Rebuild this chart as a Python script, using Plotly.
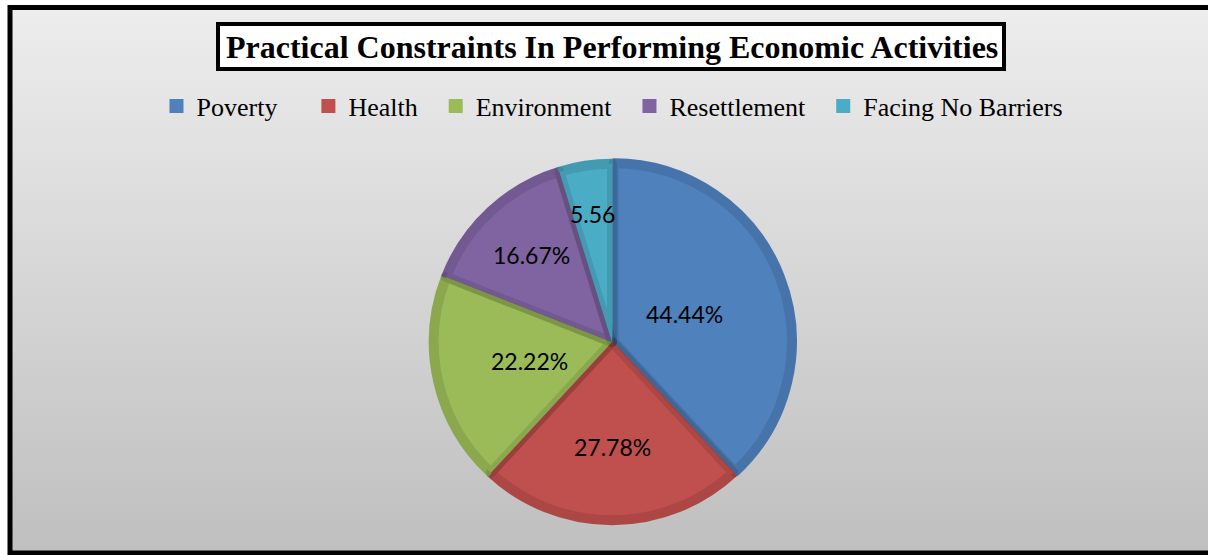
import base64
import math
import plotly.graph_objects as go

# Data
categories = ["Poverty", "Health", "Environment", "Resettlement", "Facing No Barriers"]
values = [44.44, 27.78, 22.22, 16.67, 5.56]
value_labels = ["44.44%", "27.78%", "22.22%", "16.67%", "5.56"]
colors = ["#4f81bd", "#c0504d", "#9bbb59", "#8064a2", "#4bacc6"]

W, H = 1208, 555

def px_x(x):
    return x / W

def px_y(y):
    return 1 - y / H

# pie geometry in pixels
cx, cy, R = 612, 342, 185
band = 10  # width of the darker bevel stroke
r_inner = R - band / 2
# how far out (fraction of radius) each slice label sits along its mid-angle
label_radius = [0.42, 0.57, 0.46, 0.64, 0.70]
# extra non-breaking spaces after each legend entry to widen the gaps
legend_pad = [4, 2, 2, 2, 0]
legend_names = [c + "\u00a0" * n for c, n in zip(categories, legend_pad)]

def domain(r):
    return dict(x=[px_x(cx - r), px_x(cx + r)], y=[px_y(cy + r), px_y(cy - r)])

fig = go.Figure()

# base layer (full radius) carries the legend
fig.add_trace(go.Pie(
    labels=legend_names, values=values, sort=False, direction="clockwise", rotation=0,
    marker=dict(colors=colors, line=dict(width=2, color=colors)),
    textinfo="none", customdata=categories,
    hovertemplate="%{customdata}: %{value}<extra></extra>", domain=domain(R - 1),
    pull=[0.01, 0, 0, 0, 0], showlegend=True,
))

# top layer with a translucent darker edge for the bevelled look
fig.add_trace(go.Pie(
    labels=legend_names, values=values, sort=False, direction="clockwise", rotation=0,
    marker=dict(colors=colors, line=dict(width=band, color="rgba(0,0,0,0.10)")),
    textinfo="none", customdata=categories,
    hovertemplate="%{customdata}: %{value}<extra></extra>", domain=domain(r_inner),
    pull=[0.01, 0, 0, 0, 0], showlegend=False,
))

# slice labels placed along each slice's mid-angle
total = sum(values)
annotations = []
cum = 0.0
for v, txt, rf in zip(values, value_labels, label_radius):
    mid = (cum + v / 2) / total * 2 * math.pi
    cum += v
    annotations.append(dict(
        text=txt, xref="paper", yref="paper",
        x=px_x(cx + rf * R * math.sin(mid)), y=px_y(cy - rf * R * math.cos(mid)),
        xanchor="center", yanchor="middle", showarrow=False,
        font=dict(family="Lato", size=23, color="#000000"),
    ))

annotations.append(dict(
    text="<b>Practical Constraints In Performing Economic Activities</b>",
    xref="paper", yref="paper", x=px_x(612), y=px_y(47),
    xanchor="center", yanchor="middle", showarrow=False,
    font=dict(family="Liberation Serif", size=32, color="#000000"),
))

# grey vertical gradient behind the chart area
svg = (
    '<svg xmlns="http://www.w3.org/2000/svg" width="100" height="100" preserveAspectRatio="none">'
    '<defs><linearGradient id="g" x1="0" y1="0" x2="0" y2="1">'
    '<stop offset="0" stop-color="#ededed"/><stop offset="1" stop-color="#bfbfbf"/>'
    '</linearGradient></defs><rect width="100" height="100" fill="url(#g)"/></svg>'
)
bg_uri = "data:image/svg+xml;base64," + base64.b64encode(svg.encode()).decode()

fig.update_layout(
    width=W, height=H,
    margin=dict(l=0, r=0, t=0, b=0, autoexpand=False),
    paper_bgcolor="#ffffff",
    images=[dict(
        source=bg_uri, xref="paper", yref="paper",
        x=px_x(10), y=px_y(7), sizex=px_x(W + 10) - px_x(10), sizey=px_y(7) - px_y(553),
        xanchor="left", yanchor="top", sizing="stretch", layer="below",
    )],
    shapes=[
        # outer frame
        dict(type="rect", xref="paper", yref="paper",
             x0=px_x(10), x1=px_x(W + 10), y0=px_y(553), y1=px_y(7.5),
             line=dict(color="#000000", width=5), fillcolor="rgba(0,0,0,0)"),
        # title box
        dict(type="rect", xref="paper", yref="paper",
             x0=px_x(218), x1=px_x(1004), y0=px_y(69), y1=px_y(24),
             line=dict(color="#000000", width=4), fillcolor="#ffffff"),
    ],
    annotations=annotations,
    legend=dict(
        orientation="h", xref="paper", yref="paper",
        x=px_x(612), y=px_y(106), xanchor="center", yanchor="middle",
        font=dict(family="Liberation Serif", size=26, color="#000000"),
        bgcolor="rgba(0,0,0,0)", traceorder="normal",
    ),
)

fig.write_html("out.html")
